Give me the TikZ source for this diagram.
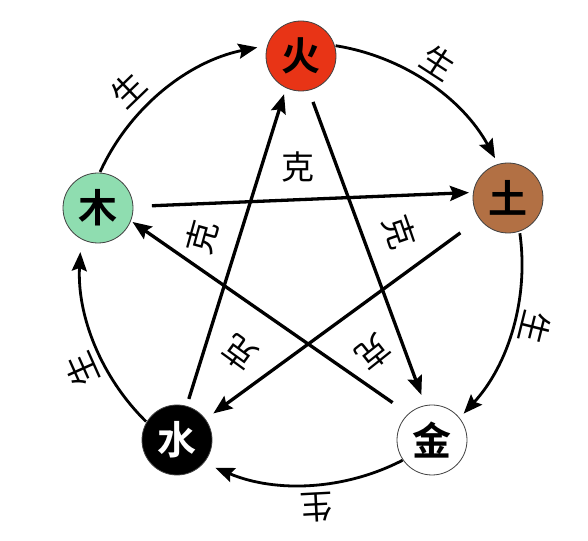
\documentclass[tikz,border=0pt]{standalone}
\usepackage{fontspec}
\newfontfamily\cjk{Noto Sans CJK SC}
\newfontfamily\cjkb{Noto Sans CJK SC Bold}
\usetikzlibrary{arrows.meta,calc}
\definecolor{firered}{RGB}{232,52,22}
\definecolor{earth}{RGB}{178,112,68}
\definecolor{wood}{RGB}{143,221,176}
\begin{document}
\begin{tikzpicture}[x=1pt,y=1pt,
  elem/.style={circle,minimum size=70pt,inner sep=0pt,outer sep=0pt,draw=black!75,line width=0.8pt,font=\cjkb\fontsize{39}{39}\selectfont},
  lbl/.style={font=\cjk\fontsize{33}{33}\selectfont,inner sep=0pt},
  tipshape/.style={-{Stealth[length=19pt,width=15pt,inset=3pt]}},
  sheng/.style={line width=2.8pt,tipshape},
  ke/.style={line width=3.3pt,tipshape}]
\useasboundingbox (0,0) rectangle (588,540);
\coordinate (O) at (301,276);
% sheng cycle arcs
\draw[sheng] ($(O)+(81:221)$) arc[start angle=81,end angle=28.6,radius=221];
\draw[sheng] ($(O)+(8:221)$) arc[start angle=8,end angle=-42.6,radius=221];
\draw[sheng] ($(O)+(-62.6:221)$) arc[start angle=-62.6,end angle=-112.8,radius=221];
\draw[sheng] ($(O)+(225.5:221)$) arc[start angle=225.5,end angle=176.9,radius=221];
\draw[sheng] ($(O)+(155.4:221)$) arc[start angle=155.4,end angle=101.4,radius=221];
% element nodes
\node[elem,fill=firered] (huo) at (301,484) {火};
\node[elem,fill=earth] (tu) at (508,342) {土};
\node[elem,fill=white] (jin) at (432,100) {金};
\node[elem,fill=black,text=white] (shui) at (177,100) {水};
\node[elem,fill=wood] (mu) at (98,332) {木};
% ke star lines
\draw[ke,shorten <=49pt,shorten >=48pt] ($(huo.center)+(-5,0)$) -- ($(jin.center)+(6,0)$);
\draw[ke,shorten <=48pt,shorten >=42pt] ($(jin.center)+(0,10)$) -- ($(mu.center)+(0,10)$);
\draw[ke,shorten <=54pt,shorten >=39pt] (mu.center) -- ($(tu.center)+(0,7)$);
\draw[ke,shorten <=59pt,shorten >=45pt] (tu.center) -- (shui.center);
\draw[ke,shorten <=43pt,shorten >=40pt] ($(shui.center)+(-1,0)$) -- ($(huo.center)+(-5,0)$);
% sheng labels
\node[lbl,rotate=-33] (s1) at (438,477) {生};
\node[lbl,rotate=-104] (s2) at (535,212) {生};
\node[lbl,rotate=-177] (s3) at (317,33) {生};
\node[lbl,rotate=114] (s4) at (82,170) {生};
\node[lbl,rotate=44] (s5) at (128,450) {生};
% ke labels
\node[lbl] (k1) at (298,373) {克};
\node[lbl,rotate=-71] (k2) at (400,308) {克};
\node[lbl,rotate=74.5] (k3) at (202,303) {克};
\node[lbl,rotate=144] (k4) at (240,187) {克};
\node[lbl,rotate=-141.5] (k5) at (373,187) {克};
\end{tikzpicture}
\end{document}
